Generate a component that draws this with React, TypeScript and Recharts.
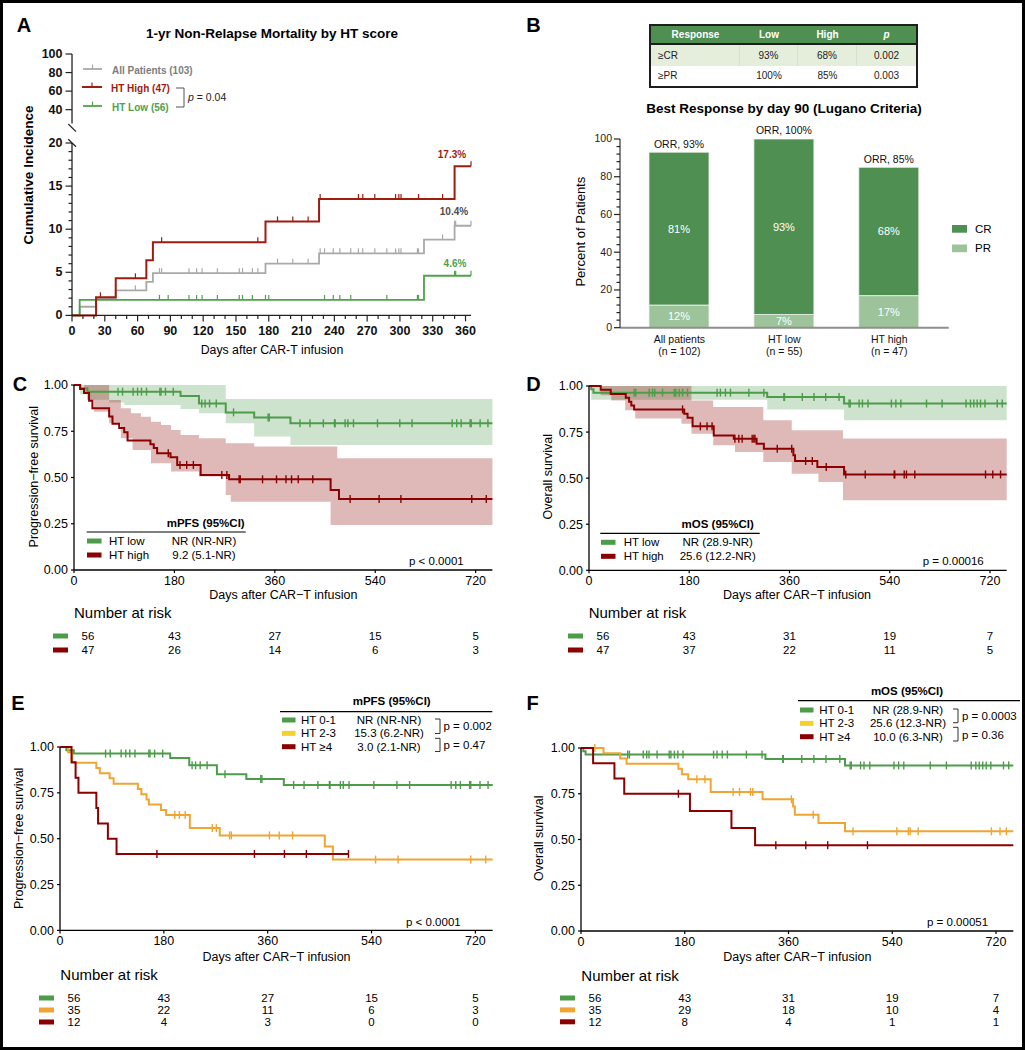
import React from 'react';
import {
  ComposedChart,
  ScatterChart,
  BarChart,
  Line,
  Area,
  Scatter,
  Bar,
  XAxis,
  YAxis,
  LabelList,
} from 'recharts';

const FONT = '"Liberation Sans", Arial, Helvetica, sans-serif';

// colours
const NCR_GRAY = '#a9a9a9';
const NCR_RED = '#9e1d0f';
const NCR_GREEN = '#4fa24c';
const GREEN = '#4c9c4a';
const DARKRED = '#8b0000';
const ORANGE = '#f0a532';
const YELLOW = '#f4d22c';
const CR_GREEN = '#4f8f51';
const PR_GREEN = '#9cc39a';

// ---------- Panel A: 1-yr non-relapse mortality (cumulative incidence, %) ----------
const NCR_ALL_DAYS = [0, 7, 22, 40, 68, 74, 177, 226, 322, 350, 365];
const NCR_ALL_CI = [0, 1.0, 1.9, 2.9, 3.9, 4.9, 6.0, 7.2, 8.8, 10.4, 10.4];
const NCR_ALL_CENS = [58, 80, 82, 107, 114, 119, 133, 153, 156, 165, 170, 188, 202, 216, 227, 231, 239, 245, 255, 262, 266, 277, 288, 296, 299, 301, 316, 317, 339, 350, 351, 365];
const NCR_HIGH_DAYS = [0, 22, 40, 68, 74, 177, 226, 350, 365];
const NCR_HIGH_CI = [0, 2.1, 4.3, 6.4, 8.5, 10.9, 13.5, 17.3, 17.3];
const NCR_HIGH_CENS = [26, 58, 82, 170, 188, 202, 216, 227, 262, 266, 277, 296, 299, 301, 317, 339, 365];
const NCR_LOW_DAYS = [0, 7, 322, 365];
const NCR_LOW_CI = [0, 1.8, 4.6, 4.6];
const NCR_LOW_CENS = [80, 88, 107, 114, 119, 133, 153, 156, 165, 177, 180, 231, 239, 245, 255, 288, 316, 317, 350, 351, 365];
const NCR_X_LABELS = [0, 30, 60, 90, 120, 150, 180, 210, 240, 270, 300, 330, 360];
const NCR_X_TICKS = Array.from({ length: 37 }, (_, i) => i * 10);
const NCR_Y_LABELS = [0, 5, 10, 15, 20];
const NCR_Y_TICKS = Array.from({ length: 21 }, (_, i) => i);
const NCR_UPPER_TICKS = [40, 60, 80, 100];

// ---------- Panel B: best response by day 90 ----------
const B_GROUPS = ['All patients', 'HT low', 'HT high'];
const B_N = [102, 55, 47];
const B_PR = [12, 7, 17];
const B_CR = [81, 93, 68];
const B_ORR = [93, 100, 85];
const B_Y_LABELS = [0, 20, 40, 60, 80, 100];
const B_Y_TICKS = Array.from({ length: 26 }, (_, i) => i * 4);
const B_TABLE_HEAD = ['Response', 'Low', 'High', 'p'];
const B_TABLE_ROWS = [
  ['≥CR', '93%', '68%', '0.002'],
  ['≥PR', '100%', '85%', '0.003'],
];

// ---------- Kaplan-Meier curves (days, survival) ----------
const KM_X_TICKS = [0, 180, 360, 540, 720];
const KM_Y_TICKS = [0, 0.25, 0.5, 0.75, 1];
const RISK_TIMES = [0, 180, 360, 540, 720];

// PFS, HT low / HT 0-1
const PFS_LOW_DAYS = [0, 11, 24, 191, 224, 272, 323, 388, 750];
const PFS_LOW_S = [1, 0.982, 0.964, 0.94, 0.9, 0.852, 0.825, 0.793, 0.793];
const PFS_LOW_CENS = [79, 87, 106, 114, 121, 130, 154, 156, 164, 178, 229, 235, 243, 255, 286, 348, 350, 405, 423, 447, 467, 468, 486, 491, 501, 544, 584, 606, 678, 686, 694, 710, 712, 728, 742];
const PFS_LOW_BAND_DAYS = [0, 11, 24, 63, 90, 191, 224, 272, 323, 388, 750];
const PFS_LOW_LO = [1, 0.95, 0.92, 0.905, 0.892, 0.87, 0.847, 0.793, 0.721, 0.676, 0.676];
const PFS_LOW_HI = [1, 1, 1, 1, 1, 1, 1, 0.924, 0.924, 0.924, 0.924];

// PFS, HT high
const PFS_HIGH_DAYS = [0, 11, 18, 27, 33, 63, 69, 81, 90, 96, 137, 143, 149, 173, 185, 227, 278, 460, 475, 750];
const PFS_HIGH_S = [1, 0.979, 0.957, 0.915, 0.874, 0.83, 0.79, 0.767, 0.745, 0.7, 0.68, 0.66, 0.631, 0.61, 0.568, 0.514, 0.49, 0.432, 0.384, 0.384];
const PFS_HIGH_CENS = [169, 190, 202, 214, 265, 274, 296, 298, 338, 363, 380, 390, 402, 428, 495, 547, 586, 713, 739];
const PFS_HIGH_BAND_DAYS = [0, 18, 24, 36, 63, 84, 102, 105, 120, 138, 156, 174, 191, 224, 272, 281, 323, 460, 472, 750];
const PFS_HIGH_LO = [1, 0.96, 0.919, 0.856, 0.793, 0.712, 0.712, 0.649, 0.649, 0.577, 0.577, 0.532, 0.532, 0.505, 0.405, 0.369, 0.369, 0.243, 0.243, 0.243];
const PFS_HIGH_HI = [1, 1, 1, 1, 0.919, 0.874, 0.847, 0.847, 0.829, 0.802, 0.784, 0.757, 0.73, 0.712, 0.685, 0.685, 0.667, 0.667, 0.604, 0.604];

// OS, HT low / HT 0-1
const OS_LOW_DAYS = [0, 4, 8, 320, 458, 750];
const OS_LOW_S = [1, 0.982, 0.964, 0.94, 0.905, 0.905];
const OS_LOW_CENS = [81, 84, 108, 114, 118, 132, 153, 156, 162, 168, 177, 230, 236, 245, 254, 287, 314, 350, 351, 383, 404, 425, 449, 467, 469, 485, 491, 501, 543, 551, 560, 606, 634, 677, 685, 691, 697, 703, 711, 733, 742];
const OS_LOW_BAND_DAYS = [0, 4, 320, 458, 750];
const OS_LOW_LO = [1, 0.926, 0.873, 0.814, 0.814];
const OS_LOW_HI = [1, 1, 1, 1, 1];

// OS, HT high
const OS_HIGH_DAYS = [0, 21, 39, 66, 72, 76, 81, 171, 177, 186, 224, 260, 301, 314, 367, 370, 410, 458, 750];
const OS_HIGH_S = [1, 0.979, 0.957, 0.936, 0.915, 0.894, 0.873, 0.85, 0.828, 0.781, 0.732, 0.714, 0.687, 0.66, 0.624, 0.593, 0.56, 0.52, 0.52];
const OS_HIGH_CENS = [168, 200, 212, 221, 262, 269, 275, 293, 296, 298, 338, 364, 389, 401, 426, 461, 496, 548, 549, 566, 570, 585, 712, 725, 739];
const OS_HIGH_BAND_DAYS = [0, 21, 40, 65, 83, 166, 184, 223, 262, 313, 364, 412, 456, 750];
const OS_HIGH_LO = [1, 0.95, 0.922, 0.868, 0.823, 0.795, 0.741, 0.678, 0.642, 0.588, 0.524, 0.479, 0.38, 0.38];
const OS_HIGH_HI = [1, 1, 1, 1, 1, 1, 0.922, 0.886, 0.886, 0.814, 0.76, 0.76, 0.715, 0.715];

// PFS, HT 2-3 and HT >=4
const PFS_MID_DAYS = [0, 14, 21, 63, 69, 86, 93, 135, 141, 150, 154, 175, 184, 225, 277, 459, 473, 750];
const PFS_MID_S = [1, 0.971, 0.914, 0.886, 0.857, 0.829, 0.8, 0.771, 0.743, 0.714, 0.686, 0.657, 0.629, 0.558, 0.518, 0.458, 0.386, 0.386];
const PFS_MID_CENS = [199, 207, 217, 264, 271, 294, 297, 363, 380, 403, 547, 586, 712, 738];
const PFS_TOP_DAYS = [0, 20, 27, 32, 63, 66, 83, 98, 500];
const PFS_TOP_S = [1, 0.917, 0.833, 0.75, 0.667, 0.583, 0.5, 0.417, 0.417];
const PFS_TOP_CENS = [168, 337, 389, 427, 500];

// OS, HT 2-3 and HT >=4
const OS_MID_DAYS = [0, 39, 68, 79, 169, 175, 186, 225, 315, 368, 371, 412, 458, 750];
const OS_MID_S = [1, 0.971, 0.943, 0.914, 0.886, 0.857, 0.829, 0.76, 0.72, 0.68, 0.635, 0.59, 0.545, 0.545];
const OS_MID_CENS = [24, 201, 215, 264, 275, 294, 298, 365, 403, 472, 548, 568, 571, 585, 712, 727, 738];
const OS_TOP_DAYS = [0, 21, 58, 75, 189, 261, 302, 750];
const OS_TOP_S = [1, 0.917, 0.833, 0.75, 0.656, 0.5625, 0.469, 0.469];
const OS_TOP_CENS = [169, 338, 390, 428, 497];

// numbers at risk
const C_RISK = [[56, 43, 27, 15, 5], [47, 26, 14, 6, 3]];
const D_RISK = [[56, 43, 31, 19, 7], [47, 37, 22, 11, 5]];
const E_RISK = [[56, 43, 27, 15, 5], [35, 22, 11, 6, 3], [12, 4, 3, 0, 0]];
const F_RISK = [[56, 43, 31, 19, 7], [35, 29, 18, 10, 4], [12, 8, 4, 1, 1]];

// legend tables
const C_GROUPS = ['HT low', 'HT high'];
const C_MEDIANS = ['NR (NR-NR)', '9.2 (5.1-NR)'];
const D_MEDIANS = ['NR (28.9-NR)', '25.6 (12.2-NR)'];
const EF_GROUPS = ['HT 0-1', 'HT 2-3', 'HT ≥4'];
const E_MEDIANS = ['NR (NR-NR)', '15.3 (6.2-NR)', '3.0 (2.1-NR)'];
const F_MEDIANS = ['NR (28.9-NR)', '25.6 (12.3-NR)', '10.0 (6.3-NR)'];

// ---------- helpers ----------
const stepPts = (days: number[], vals: number[]) => days.map((d, i) => ({ x: d, y: vals[i] }));
const valueAt = (days: number[], vals: number[], t: number) => {
  let v = vals[0];
  days.forEach((d, i) => {
    if (d <= t) v = vals[i];
  });
  return v;
};
const censorPts = (cens: number[], days: number[], vals: number[]) =>
  cens.map((t) => ({ x: t, y: valueAt(days, vals, t) }));
const bandPts = (b: { days: number[]; lo: number[]; hi: number[] }) =>
  b.days.map((d, i) => ({ x: d, range: [b.lo[i], b.hi[i]] }));

const tickShape = (color: string, up: number, down: number, sw = 1.4) => (p: any) =>
  p.cx == null ? <g /> : (
    <line x1={p.cx} x2={p.cx} y1={p.cy - up} y2={p.cy + down} stroke={color} strokeWidth={sw} />
  );

type Curve = {
  days: number[];
  surv: number[];
  cens: number[];
  color: string;
  band?: { days: number[]; lo: number[]; hi: number[] };
};

const T = ({ x, y, children, size = 12, anchor = 'start', weight = 400, fill = '#000', rotate = false, italic = false }: any) => (
  <text
    x={x}
    y={y}
    fontSize={size}
    textAnchor={anchor}
    fontWeight={weight}
    fontStyle={italic ? 'italic' : 'normal'}
    fill={fill}
    dominantBaseline="central"
    transform={rotate ? `rotate(-90 ${x} ${y})` : undefined}
  >
    {children}
  </text>
);

// ---------- Panel A ----------
const makeYTick = (labels: number[], size: number, weight: number, majorLen: number, gap: number, fill: string) => (p: any) => {
  const v = p.payload.value;
  const major = labels.includes(v);
  return (
    <g>
      <line x1={p.x - (major ? majorLen : 3.5)} x2={p.x} y1={p.y} y2={p.y} stroke="#222" strokeWidth={1.2} />
      {major && (
        <text x={p.x - gap} y={p.y} textAnchor="end" dominantBaseline="central" fontSize={size} fontWeight={weight} fill={fill}>
          {v}
        </text>
      )}
    </g>
  );
};

const NcrXTick = (p: any) => {
  const v = p.payload.value;
  const major = NCR_X_LABELS.includes(v);
  return (
    <g>
      <line x1={p.x} x2={p.x} y1={p.y} y2={p.y + (major ? 6 : 3.5)} stroke="#222" strokeWidth={1.2} />
      {major && (
        <text x={p.x} y={p.y + 16} textAnchor="middle" dominantBaseline="central" fontSize={12.5} fontWeight={700} fill="#111">
          {v}
        </text>
      )}
    </g>
  );
};

const NcrPanel = () => {
  const yw = 40;
  const mr = 10;
  const mt = 12;
  const plotW = 399;
  const axisLine = { stroke: '#222', strokeWidth: 1.3 };
  const series = [
    { days: NCR_ALL_DAYS, vals: NCR_ALL_CI, cens: NCR_ALL_CENS, color: NCR_GRAY, sw: 1.8 },
    { days: NCR_LOW_DAYS, vals: NCR_LOW_CI, cens: NCR_LOW_CENS, color: NCR_GREEN, sw: 1.8 },
    { days: NCR_HIGH_DAYS, vals: NCR_HIGH_CI, cens: NCR_HIGH_CENS, color: NCR_RED, sw: 2 },
  ];
  return (
    <>
      {/* upper segment of the broken y axis (the series lie below it and are clipped away) */}
      <div style={{ position: 'absolute', left: 72 - yw, top: 54 - mt }}>
        <ComposedChart width={yw + plotW + mr} height={mt + 69.6} margin={{ top: mt, right: mr, bottom: 0, left: 0 }}>
          <XAxis type="number" dataKey="x" domain={[0, 365]} hide />
          <YAxis
            type="number"
            domain={[25, 100]}
            allowDataOverflow
            ticks={NCR_UPPER_TICKS}
            interval={0}
            width={yw}
            tickSize={0}
            tickMargin={0}
            tickLine={false}
            axisLine={axisLine}
            tick={makeYTick(NCR_UPPER_TICKS, 12.5, 700, 6.5, 9.5, '#111')}
          />
          <Line data={stepPts(NCR_ALL_DAYS, NCR_ALL_CI)} dataKey="y" type="stepAfter" stroke="none" dot={false} isAnimationActive={false} />
        </ComposedChart>
      </div>
      {/* lower segment with the curves */}
      <div style={{ position: 'absolute', left: 72 - yw, top: 143.3 - mt }}>
        <ComposedChart width={yw + plotW + mr} height={mt + 172.4 + 30} margin={{ top: mt, right: mr, bottom: 0, left: 0 }}>
          <XAxis
            type="number"
            dataKey="x"
            domain={[0, 365]}
            ticks={NCR_X_TICKS}
            interval={0}
            height={30}
            tickSize={0}
            tickMargin={0}
            tickLine={false}
            axisLine={axisLine}
            tick={NcrXTick}
          />
          <YAxis
            type="number"
            domain={[0, 20]}
            ticks={NCR_Y_TICKS}
            interval={0}
            width={yw}
            tickSize={0}
            tickMargin={0}
            tickLine={false}
            axisLine={axisLine}
            tick={makeYTick(NCR_Y_LABELS, 12.5, 700, 6.5, 9.5, '#111')}
          />
          {series.map((s, i) => (
            <Line
              key={'l' + i}
              data={stepPts(s.days, s.vals)}
              dataKey="y"
              type="stepAfter"
              stroke={s.color}
              strokeWidth={s.sw}
              dot={false}
              isAnimationActive={false}
            />
          ))}
          {series.map((s, i) => (
            <Scatter
              key={'c' + i}
              data={censorPts(s.cens, s.days, s.vals)}
              dataKey="y"
              shape={tickShape(s.color, 5, 0, 1.2)}
              isAnimationActive={false}
            />
          ))}
        </ComposedChart>
      </div>
    </>
  );
};

// ---------- Panel B ----------
const COLS = [89, 58, 59, 59];

const ResponseTable = () => (
  <div
    style={{
      position: 'absolute',
      left: 649,
      top: 24,
      width: 269,
      height: 64,
      border: '2px solid #1e1e1e',
      boxSizing: 'border-box',
      fontSize: 10,
      color: '#222',
      lineHeight: 1,
    }}
  >
    <div style={{ display: 'flex', height: 17, background: CR_GREEN, color: '#fff', fontWeight: 700, borderBottom: '2px solid #1e1e1e', alignItems: 'center' }}>
      {B_TABLE_HEAD.map((h, i) => (
        <div key={i} style={{ width: COLS[i], textAlign: 'center', fontStyle: h === 'p' ? 'italic' : 'normal' }}>
          {h}
        </div>
      ))}
    </div>
    {B_TABLE_ROWS.map((r, ri) => (
      <div key={ri} style={{ display: 'flex', height: ri === 0 ? 21 : 20, background: ri === 0 ? '#e5eedb' : '#fff' }}>
        {r.map((c, ci) => (
          <div
            key={ci}
            style={{
              width: COLS[ci],
              display: 'flex',
              alignItems: 'center',
              justifyContent: ci === 0 ? 'flex-start' : 'center',
              paddingLeft: ci === 0 ? 7 : 0,
              boxSizing: 'border-box',
              borderRight: ri === 0 && ci < 3 ? '1px solid #d6e2cb' : 'none',
            }}
          >
            {c}
          </div>
        ))}
      </div>
    ))}
  </div>
);

const GroupTick = (p: any) => (
  <g>
    <text x={p.x} y={p.y + 11.5} textAnchor="middle" dominantBaseline="central" fontSize={10.5} fill="#111">
      {p.payload.value}
    </text>
    <text x={p.x} y={p.y + 24} textAnchor="middle" dominantBaseline="central" fontSize={10.5} fill="#111">
      {`(n = ${B_N[p.index]})`}
    </text>
  </g>
);

const OrrLabel = (p: any) => (
  <text x={p.x + p.width / 2} y={p.y - 8} textAnchor="middle" dominantBaseline="central" fontSize={10.5} fill="#111">
    {`ORR, ${p.value}%`}
  </text>
);

const ResponseBars = () => {
  const data = B_GROUPS.map((g, i) => ({ group: g, pr: B_PR[i], cr: B_CR[i], orr: B_ORR[i] }));
  const yw = 40;
  const mt = 22;
  return (
    <div style={{ position: 'absolute', left: 620.3 - yw, top: 139 - mt }}>
      <BarChart width={yw + 328.7 + 5} height={mt + 188.7 + 35} data={data} margin={{ top: mt, right: 5, bottom: 0, left: 0 }}>
        <XAxis
          dataKey="group"
          height={35}
          padding={{ left: 7, right: 7 }}
          interval={0}
          tickSize={0}
          tickMargin={0}
          tickLine={false}
          axisLine={{ stroke: '#8f8f8f', strokeWidth: 2 }}
          tick={GroupTick}
        />
        <YAxis
          type="number"
          domain={[0, 100]}
          ticks={B_Y_TICKS}
          interval={0}
          width={yw}
          tickSize={0}
          tickMargin={0}
          tickLine={false}
          axisLine={{ stroke: '#333', strokeWidth: 1.2 }}
          tick={makeYTick(B_Y_LABELS, 10.5, 400, 6, 8, '#222')}
        />
        <Bar dataKey="pr" stackId="r" fill={PR_GREEN} stroke="#eef4ec" strokeWidth={0.8} barSize={60} isAnimationActive={false}>
          <LabelList dataKey="pr" position="center" formatter={(v: any) => `${v}%`} fill="#fff" fontSize={11} />
        </Bar>
        <Bar dataKey="cr" stackId="r" fill={CR_GREEN} stroke="#eef4ec" strokeWidth={0.8} barSize={60} isAnimationActive={false}>
          <LabelList dataKey="cr" position="center" formatter={(v: any) => `${v}%`} fill="#fff" fontSize={11} />
          <LabelList dataKey="orr" content={OrrLabel} />
        </Bar>
      </BarChart>
    </div>
  );
};

// ---------- Kaplan-Meier panels ----------
const KMChart = ({ x, y, w, h, curves }: { x: number; y: number; w: number; h: number; curves: Curve[] }) => {
  const yw = 40;
  const xh = 24;
  const mt = 8;
  const mr = 8;
  const axisLine = { stroke: '#000', strokeWidth: 1.3 };
  const tickLine = { stroke: '#000', strokeWidth: 1.2 };
  return (
    <div style={{ position: 'absolute', left: x - yw, top: y - mt }}>
      <ComposedChart width={yw + w + mr} height={mt + h + xh} margin={{ top: mt, right: mr, bottom: 0, left: 0 }}>
        <XAxis
          type="number"
          dataKey="x"
          domain={[0, 750]}
          ticks={KM_X_TICKS}
          interval={0}
          height={xh}
          tickSize={3}
          tickMargin={3}
          axisLine={axisLine}
          tickLine={tickLine}
          tick={{ fontSize: 12.5, fill: '#000' }}
        />
        <YAxis
          type="number"
          domain={[0, 1]}
          ticks={KM_Y_TICKS}
          interval={0}
          width={yw}
          tickSize={3}
          tickMargin={3}
          axisLine={axisLine}
          tickLine={tickLine}
          tick={{ fontSize: 12.5, fill: '#000' }}
          tickFormatter={(v: number) => v.toFixed(2)}
        />
        {curves
          .filter((c) => c.band)
          .map((c, i) => (
            <Area
              key={'b' + i}
              data={bandPts(c.band!)}
              dataKey="range"
              type="stepAfter"
              stroke="none"
              fill={c.color}
              fillOpacity={0.28}
              isAnimationActive={false}
            />
          ))}
        {curves.map((c, i) => (
          <Line
            key={'l' + i}
            data={stepPts(c.days, c.surv)}
            dataKey="y"
            type="stepAfter"
            stroke={c.color}
            strokeWidth={2}
            dot={false}
            isAnimationActive={false}
          />
        ))}
        {curves.map((c, i) => (
          <Scatter
            key={'c' + i}
            data={censorPts(c.cens, c.days, c.surv)}
            dataKey="y"
            shape={tickShape(c.color, 4, 4, 1.4)}
            isAnimationActive={false}
          />
        ))}
      </ComposedChart>
    </div>
  );
};

const RiskTable = ({ x, y, w, gap, rows, colors }: { x: number; y: number; w: number; gap: number; rows: number[][]; colors: string[] }) => {
  const yw = 40;
  const mt = 8;
  const mr = 8;
  const n = rows.length;
  return (
    <div style={{ position: 'absolute', left: x - yw, top: y - mt }}>
      <ScatterChart width={yw + w + mr} height={gap * (n - 1) + 2 * mt} margin={{ top: mt, right: mr, bottom: mt, left: 0 }}>
        <XAxis type="number" dataKey="t" domain={[0, 750]} hide />
        <YAxis
          type="number"
          dataKey="row"
          domain={[0, n - 1]}
          reversed
          ticks={rows.map((_, i) => i)}
          interval={0}
          width={yw}
          axisLine={false}
          tickLine={false}
          tickSize={0}
          tickMargin={0}
          tick={(p: any) => <rect x={p.x - 21} y={p.y - 2.5} width={15} height={5} fill={colors[p.payload.value]} />}
        />
        {rows.map((r, i) => (
          <Scatter
            key={i}
            data={RISK_TIMES.map((t, j) => ({ t, row: i, n: r[j] }))}
            isAnimationActive={false}
            shape={(p: any) => (
              <text
                x={p.cx + (p.payload.t === 0 ? 14 : 0)}
                y={p.cy}
                textAnchor="middle"
                dominantBaseline="central"
                fontSize={11.5}
                fill="#000"
              >
                {p.payload.n}
              </text>
            )}
          />
        ))}
      </ScatterChart>
    </div>
  );
};

const KMLegend = ({ title, hx, hy, lx1, lx2, ly, rowY, gap, sx, sw, labelX, valueX, groups, medians, colors }: any) => (
  <g>
    <T x={hx} y={hy} size={11.5} weight={700} anchor="middle">
      {title}
    </T>
    <line x1={lx1} x2={lx2} y1={ly} y2={ly} stroke="#000" strokeWidth={1.2} />
    {groups.map((g: string, i: number) => (
      <g key={i}>
        <rect x={sx} y={rowY + i * gap - 2.5} width={sw} height={5} fill={colors[i]} />
        <T x={labelX} y={rowY + i * gap} size={11.5}>
          {g}
        </T>
        <T x={valueX} y={rowY + i * gap} size={11.5} anchor="middle">
          {medians[i]}
        </T>
      </g>
    ))}
  </g>
);

const bracket = (x: number, y1: number, y2: number) => (
  <path d={`M${x - 5},${y1} H${x} V${y2} H${x - 5}`} fill="none" stroke="#333" strokeWidth={1} />
);

const pfsLow: Curve = { days: PFS_LOW_DAYS, surv: PFS_LOW_S, cens: PFS_LOW_CENS, color: GREEN, band: { days: PFS_LOW_BAND_DAYS, lo: PFS_LOW_LO, hi: PFS_LOW_HI } };
const pfsHigh: Curve = { days: PFS_HIGH_DAYS, surv: PFS_HIGH_S, cens: PFS_HIGH_CENS, color: DARKRED, band: { days: PFS_HIGH_BAND_DAYS, lo: PFS_HIGH_LO, hi: PFS_HIGH_HI } };
const osLow: Curve = { days: OS_LOW_DAYS, surv: OS_LOW_S, cens: OS_LOW_CENS, color: GREEN, band: { days: OS_LOW_BAND_DAYS, lo: OS_LOW_LO, hi: OS_LOW_HI } };
const osHigh: Curve = { days: OS_HIGH_DAYS, surv: OS_HIGH_S, cens: OS_HIGH_CENS, color: DARKRED, band: { days: OS_HIGH_BAND_DAYS, lo: OS_HIGH_LO, hi: OS_HIGH_HI } };
const noBand = (c: Curve): Curve => ({ days: c.days, surv: c.surv, cens: c.cens, color: c.color });
const pfsMid: Curve = { days: PFS_MID_DAYS, surv: PFS_MID_S, cens: PFS_MID_CENS, color: ORANGE };
const pfsTop: Curve = { days: PFS_TOP_DAYS, surv: PFS_TOP_S, cens: PFS_TOP_CENS, color: DARKRED };
const osMid: Curve = { days: OS_MID_DAYS, surv: OS_MID_S, cens: OS_MID_CENS, color: ORANGE };
const osTop: Curve = { days: OS_TOP_DAYS, surv: OS_TOP_S, cens: OS_TOP_CENS, color: DARKRED };

const Overlay = () => {
  const minus = '\u2212';
  const xLabel = `Days after CAR${minus}T infusion`;
  return (
    <svg width={1025} height={1050} style={{ position: 'absolute', left: 0, top: 0, pointerEvents: 'none', fontFamily: FONT }}>
      {/* panel letters */}
      <T x={24} y={25} size={20} weight={700} anchor="middle">A</T>
      <T x={533.6} y={25} size={20} weight={700} anchor="middle">B</T>
      <T x={20} y={383.5} size={20} weight={700} anchor="middle">C</T>
      <T x={533.5} y={383.5} size={20} weight={700} anchor="middle">D</T>
      <T x={18} y={703} size={20} weight={700} anchor="middle">E</T>
      <T x={532.5} y={702.5} size={20} weight={700} anchor="middle">F</T>

      {/* panel A */}
      <T x={272} y={33.5} size={13.5} weight={700} anchor="middle">1-yr Non-Relapse Mortality by HT score</T>
      <T x={28} y={175} size={13.5} weight={700} anchor="middle" rotate>Cumulative Incidence</T>
      <T x={272} y={350} size={12.3} anchor="middle">Days after CAR-T infusion</T>
      <line x1={68.3} y1={124} x2={76} y2={131.7} stroke="#222" strokeWidth={1.2} />
      <line x1={68.3} y1={139.3} x2={76} y2={146.7} stroke="#222" strokeWidth={1.2} />
      <line x1={83} x2={102} y1={69} y2={69} stroke={NCR_GRAY} strokeWidth={1.8} />
      <line x1={92.5} x2={92.5} y1={64.5} y2={69} stroke={NCR_GRAY} strokeWidth={1.2} />
      <line x1={82} x2={102} y1={87} y2={87} stroke={NCR_RED} strokeWidth={2} />
      <line x1={92} x2={92} y1={82.5} y2={87} stroke={NCR_RED} strokeWidth={1.2} />
      <line x1={83} x2={102} y1={106} y2={106} stroke={NCR_GREEN} strokeWidth={1.8} />
      <line x1={92.5} x2={92.5} y1={101.5} y2={106} stroke={NCR_GREEN} strokeWidth={1.2} />
      <T x={112} y={70} size={10} weight={700} fill="#7d7d7d">All Patients (103)</T>
      <T x={111} y={88} size={10} weight={700} fill={NCR_RED}>HT High (47)</T>
      <T x={112} y={107} size={10} weight={700} fill={NCR_GREEN}>HT Low (56)</T>
      <path d="M176,88 H184 V107 H176" fill="none" stroke="#555" strokeWidth={1} />
      <text x={188} y={97} fontSize={10.5} dominantBaseline="central" fill="#222">
        <tspan fontStyle="italic">p</tspan> = 0.04
      </text>
      <T x={452} y={154} size={10} weight={700} anchor="middle" fill={NCR_RED}>17.3%</T>
      <T x={454} y={211} size={10} weight={700} anchor="middle" fill="#4d4d4d">10.4%</T>
      <T x={455} y={263} size={10} weight={700} anchor="middle" fill={NCR_GREEN}>4.6%</T>

      {/* panel B */}
      <T x={784} y={108.5} size={13.5} weight={700} anchor="middle">Best Response by day 90 (Lugano Criteria)</T>
      <T x={581} y={231.7} size={13} anchor="middle" rotate>Percent of Patients</T>
      <rect x={952} y={225} width={15} height={7.7} fill={CR_GREEN} />
      <T x={975} y={228.7} size={11.5}>CR</T>
      <rect x={952} y={244.5} width={15} height={7.7} fill={PR_GREEN} />
      <T x={975} y={248.3} size={11.5}>PR</T>

      {/* panel C */}
      <T x={34} y={476.7} size={12.5} anchor="middle" rotate>{`Progression${minus}free survival`}</T>
      <T x={283.3} y={595} size={12.5} anchor="middle">{xLabel}</T>
      <KMLegend title="mPFS (95%CI)" hx={205.7} hy={523} lx1={86.7} lx2={245.7} ly={532} rowY={541} gap={14}
        sx={87} sw={14.5} labelX={109} valueX={204} groups={C_GROUPS} medians={C_MEDIANS} colors={[GREEN, DARKRED]} />
      <T x={409} y={561} size={11.5}>p &lt; 0.0001</T>
      <T x={74} y={612.7} size={15}>Number at risk</T>

      {/* panel D */}
      <T x={547.8} y={476.7} size={12.5} anchor="middle" rotate>Overall survival</T>
      <T x={797} y={595} size={12.5} anchor="middle">{xLabel}</T>
      <KMLegend title="mOS (95%CI)" hx={717.7} hy={524.3} lx1={600.3} lx2={759.7} ly={533.3} rowY={542.3} gap={14}
        sx={601} sw={14.5} labelX={623.7} valueX={717.7} groups={C_GROUPS} medians={D_MEDIANS} colors={[GREEN, DARKRED]} />
      <T x={922.7} y={561} size={11.5}>p = 0.00016</T>
      <T x={588.7} y={612.7} size={15}>Number at risk</T>

      {/* panel E */}
      <T x={19.2} y={838.3} size={12.5} anchor="middle" rotate>{`Progression${minus}free survival`}</T>
      <T x={276.5} y={956.7} size={12.5} anchor="middle">{xLabel}</T>
      <KMLegend title="mPFS (95%CI)" hx={391.7} hy={700.7} lx1={280} lx2={492.3} ly={711.7} rowY={720} gap={13.35}
        sx={282} sw={13.5} labelX={301} valueX={389} groups={EF_GROUPS} medians={E_MEDIANS} colors={[GREEN, YELLOW, DARKRED]} />
      {bracket(440, 719, 733.5)}
      {bracket(440, 738.3, 751.5)}
      <T x={443.5} y={726} size={11.5}>p = 0.002</T>
      <T x={443.5} y={745.3} size={11.5}>p = 0.47</T>
      <T x={406} y={922.3} size={11.5}>p &lt; 0.0001</T>
      <T x={60.3} y={974.3} size={15}>Number at risk</T>

      {/* panel F */}
      <T x={539.5} y={838.3} size={12.5} anchor="middle" rotate>Overall survival</T>
      <T x={797.3} y={956.7} size={12.5} anchor="middle">{xLabel}</T>
      <KMLegend title="mOS (95%CI)" hx={907} hy={690.7} lx1={798} lx2={1020} ly={700.7} rowY={710} gap={13.35}
        sx={800} sw={13.5} labelX={819.3} valueX={908} groups={EF_GROUPS} medians={F_MEDIANS} colors={[GREEN, YELLOW, DARKRED]} />
      {bracket(958, 709, 722.7)}
      {bracket(958, 727.3, 741)}
      <T x={962} y={715.7} size={11.5}>p = 0.0003</T>
      <T x={962} y={735} size={11.5}>p = 0.36</T>
      <T x={927} y={922.3} size={11.5}>p = 0.00051</T>
      <T x={581.3} y={975} size={15}>Number at risk</T>
    </svg>
  );
};

export default function App() {
  return (
    <div
      style={{
        position: 'absolute',
        left: 0,
        top: 0,
        width: 1025,
        height: 1050,
        background: '#fff',
        fontFamily: FONT,
        overflow: 'hidden',
      }}
    >
      <div style={{ position: 'absolute', inset: 0, border: '3px solid #000', boxSizing: 'border-box' }} />
      <NcrPanel />
      <ResponseTable />
      <ResponseBars />

      <KMChart x={74} y={385} w={418.4} h={185} curves={[pfsLow, pfsHigh]} />
      <RiskTable x={74} y={635.7} w={418.4} gap={14} rows={C_RISK} colors={[GREEN, DARKRED]} />

      <KMChart x={588.7} y={385.7} w={417.7} h={184.3} curves={[osLow, osHigh]} />
      <RiskTable x={588.7} y={635.7} w={417.7} gap={14} rows={D_RISK} colors={[GREEN, DARKRED]} />

      <KMChart x={60.3} y={747.3} w={432.7} h={183.4} curves={[noBand(pfsLow), pfsMid, pfsTop]} />
      <RiskTable x={60.3} y={997.7} w={432.7} gap={12} rows={E_RISK} colors={[GREEN, ORANGE, DARKRED]} />

      <KMChart x={581.3} y={747.7} w={432.3} h={183} curves={[noBand(osLow), osMid, osTop]} />
      <RiskTable x={581.3} y={998.3} w={432.3} gap={11.9} rows={F_RISK} colors={[GREEN, ORANGE, DARKRED]} />

      <Overlay />
    </div>
  );
}
